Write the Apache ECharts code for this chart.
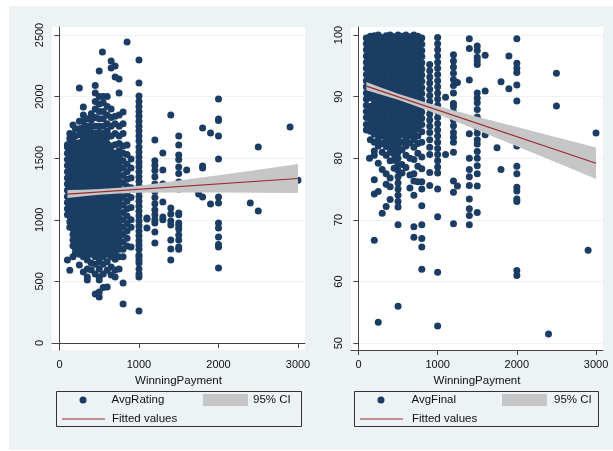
<!DOCTYPE html>
<html>
<head>
<meta charset="utf-8">
<script src="https://cdn.jsdelivr.net/npm/echarts@6/dist/echarts.min.js"></script>
<style>
  html, body { margin: 0; padding: 0; background: #ffffff; }
  #frame { position: absolute; left: 9px; top: 6px; width: 604px; height: 444px; background: #edf2f4; }
  #chart { position: absolute; left: 0; top: 0; width: 613px; height: 451px; }
</style>
</head>
<body>
<div id="frame"></div>
<div id="chart"></div>
<script>
// Tick positions
const payTicks = [0, 1000, 2000, 3000];
const ratingTicks = [0, 500, 1000, 1500, 2000, 2500];
const finalTicks = [50, 60, 70, 80, 90, 100];

// AvgRating by WinningPayment: [payment, [ratings...]]
const ratingCols = [
  [100, [674, 1040, 1090, 1140, 1190, 1240, 1290, 1340, 1390, 1440, 1490, 1540, 1590, 1610]],
  [130, [590, 940, 985, 1030, 1075, 1120, 1165, 1210, 1255, 1300, 1345, 1390, 1435, 1480, 1525, 1570, 1615, 1660, 1700]],
  [170, [700, 790, 835, 880, 925, 970, 1015, 1060, 1105, 1150, 1195, 1240, 1285, 1330, 1375, 1420, 1465, 1510, 1555, 1600, 1645, 1690, 1770]],
  [200, [730, 765, 810, 860, 910, 955, 1000, 1050, 1100, 1145, 1190, 1240, 1290, 1335, 1380, 1430, 1480, 1525, 1570, 1620, 1680, 1740]],
  [250, [633, 720, 770, 815, 860, 905, 950, 995, 1040, 1085, 1130, 1175, 1220, 1265, 1310, 1355, 1400, 1445, 1490, 1535, 1580, 1625, 1690, 1740, 1800, 2070]],
  [300, [576, 700, 745, 790, 835, 880, 925, 970, 1015, 1060, 1105, 1150, 1195, 1240, 1285, 1330, 1375, 1420, 1465, 1510, 1555, 1600, 1650, 1700, 1750, 1800, 1850, 1916]],
  [350, [511, 536, 600, 674, 720, 765, 810, 855, 900, 945, 990, 1035, 1080, 1125, 1170, 1215, 1260, 1305, 1350, 1395, 1440, 1485, 1530, 1575, 1620, 1665, 1710, 1760, 1820]],
  [400, [593, 650, 720, 760, 805, 850, 895, 940, 985, 1030, 1075, 1120, 1165, 1210, 1255, 1300, 1345, 1390, 1435, 1480, 1525, 1570, 1615, 1660, 1710, 1760, 1810, 1860]],
  [450, [398, 560, 640, 700, 745, 790, 835, 880, 925, 970, 1015, 1060, 1105, 1150, 1195, 1240, 1285, 1330, 1375, 1420, 1465, 1510, 1555, 1600, 1650, 1700, 1760, 1830, 1900, 1960, 2030, 2090]],
  [500, [373, 414, 511, 536, 600, 660, 710, 760, 805, 850, 895, 940, 985, 1030, 1075, 1120, 1165, 1210, 1255, 1300, 1345, 1390, 1435, 1480, 1525, 1570, 1615, 1660, 1710, 1760, 1820, 1880, 1940, 2000, 2208]],
  [540, [2362]],
  [550, [450, 560, 640, 700, 745, 790, 835, 880, 925, 970, 1015, 1060, 1105, 1150, 1195, 1240, 1285, 1330, 1375, 1420, 1465, 1510, 1555, 1600, 1650, 1700, 1760, 1820, 1880, 1950, 2000]],
  [600, [455, 590, 660, 720, 765, 810, 855, 900, 945, 990, 1035, 1080, 1125, 1170, 1215, 1260, 1305, 1350, 1395, 1440, 1485, 1530, 1575, 1620, 1670, 1720, 1780, 1850, 1920, 2000]],
  [650, [552, 617, 700, 745, 790, 835, 880, 925, 970, 1015, 1060, 1105, 1150, 1195, 1240, 1285, 1330, 1375, 1420, 1465, 1510, 1555, 1600, 1680, 1760, 1830, 1900, 2232, 2289]],
  [700, [536, 593, 680, 730, 775, 820, 865, 910, 955, 1000, 1045, 1090, 1135, 1180, 1225, 1270, 1315, 1360, 1405, 1450, 1495, 1540, 1610, 1700, 1780, 1840, 2160, 2248]],
  [750, [600, 700, 760, 810, 860, 910, 960, 1010, 1060, 1110, 1160, 1210, 1260, 1310, 1360, 1410, 1460, 1510, 1560, 1620, 1680, 1760, 1850, 2029, 2143]],
  [800, [317, 487, 700, 760, 820, 880, 940, 1000, 1060, 1120, 1180, 1240, 1300, 1360, 1420, 1480, 1540, 1600, 1700, 1780, 1875]],
  [850, [787, 850, 910, 970, 1030, 1090, 1150, 1210, 1270, 1330, 1390, 1450, 1530, 1607, 2443]],
  [900, [779, 940, 1000, 1100, 1180, 1260, 1340, 1420, 1494]],
  [1000, [260, 536, 560, 600, 649, 674, 700, 714, 760, 795, 830, 870, 910, 950, 990, 1030, 1070, 1110, 1150, 1190, 1230, 1270, 1310, 1350, 1390, 1430, 1470, 1510, 1550, 1590, 1640, 1680, 1720, 1760, 1800, 1840, 1880, 1920, 1960, 2005, 2110, 2297]],
  [1100, [933, 1006, 1015]],
  [1200, [811, 901, 974, 1000, 1040, 1080, 1130, 1180, 1230, 1290, 1350, 1400, 1440, 1480, 1648]],
  [1300, [1000, 1023, 1144, 1290, 1404, 1542]],
  [1400, [674, 763, 836, 958, 990, 1047, 1096, 1850]],
  [1500, [760, 779, 836, 877, 925, 950, 974, 1040, 1055, 1250, 1307, 1375, 1429, 1490, 1526, 1607, 1680]],
  [1600, [1404]],
  [1750, [1209]],
  [1800, [1185, 1420, 1437, 1745]],
  [1900, [1128, 1704]],
  [2000, [609, 779, 800, 860, 933, 974, 1136, 1185, 1494, 1680, 1805, 1818, 1980]],
  [2400, [1136]],
  [2500, [1071, 1591]],
  [2900, [1753]],
  [3000, [1320]]
];

// AvgFinal by WinningPayment: [payment, [scores...]]
const finalCols = [
  [100, [99.5, 98.6, 97.6, 96.6, 95.6, 94.6, 93.6, 92.6, 91.6, 90.6, 89.6, 88.6, 87.6, 86.6, 85.5, 84.6]],
  [140, [80.0]],
  [150, [99.8, 98.8, 97.8, 96.8, 95.8, 94.8, 93.8, 92.8, 91.8, 90.8, 89.8, 88.4, 87.4, 86.4, 85.4, 84.4, 83.0]],
  [200, [99.9, 98.9, 97.9, 96.9, 95.9, 94.9, 93.9, 92.9, 91.9, 90.9, 89.9, 88.9, 87.9, 86.9, 85.9, 84.9, 83.9, 82.6, 81.2, 80.5, 76.5, 74.2, 66.7]],
  [250, [100, 99, 98, 97, 96, 95, 94, 93, 92, 91, 90, 89, 88, 87, 86, 85, 84, 83, 82, 79.2, 74.6, 53.4]],
  [300, [99.6, 98.6, 97.6, 96.6, 95.6, 94.6, 93.6, 92.6, 91.6, 90.6, 89.6, 88.6, 87.6, 86.6, 85.6, 84.6, 83.6, 82.4, 81.0, 78.2, 71.1]],
  [350, [99.9, 98.9, 97.9, 96.9, 95.9, 94.9, 93.9, 92.9, 91.9, 90.9, 89.9, 88.9, 87.9, 86.9, 85.9, 84.9, 83.9, 82.9, 81.9, 80.5, 77.5, 75.8, 72.2]],
  [400, [100, 99, 98, 97, 96, 95, 94, 93, 92, 91, 90, 89, 88, 87, 86, 85, 84, 83, 82, 81, 79.6, 76.8, 75.4, 73.3]],
  [450, [99.7, 98.7, 97.7, 96.7, 95.7, 94.7, 93.7, 92.7, 91.7, 90.7, 89.7, 88.7, 87.7, 86.7, 85.7, 84.7, 83.7, 82.7, 81.7, 80.7, 79.7, 78.4]],
  [500, [100, 99, 98, 97, 96, 95, 94, 93, 92, 91, 90, 89, 88, 87, 86, 85, 84, 83, 82, 81, 80, 79, 78, 77, 76, 75, 74, 73, 72.1, 69.2, 56.0]],
  [550, [99.8, 98.8, 97.8, 96.8, 95.8, 94.8, 93.8, 92.8, 91.8, 90.8, 89.8, 88.8, 87.8, 86.8, 85.8, 84.8, 83.8, 82.6, 81.4, 79.0, 77.6]],
  [600, [100, 99, 98, 97, 96, 95, 94, 93, 92, 91, 90, 89, 88, 87, 86, 85, 84, 83, 82, 80.5, 78.5]],
  [650, [99.7, 98.7, 97.7, 96.7, 95.7, 94.7, 93.7, 92.7, 91.7, 90.7, 89.7, 88.7, 87.7, 86.7, 85.7, 84.7, 83.7, 82.5, 80.0, 77.3, 75.2]],
  [700, [100, 99, 98, 97, 96, 95, 94, 93, 92, 91, 90, 89, 88, 87, 86, 85, 84, 83, 81.8, 79.8, 77.5, 76.3, 74.0, 68.9, 67.2]],
  [750, [99.8, 98.8, 97.8, 96.8, 95.8, 94.8, 93.8, 92.8, 91.8, 90.8, 89.8, 88.8, 87.8, 86.8, 85.8, 84.8, 83.6, 82.4, 80.8, 78.7, 76.2]],
  [800, [99.5, 98.5, 97.5, 96.5, 95.5, 94.5, 93.5, 92.5, 91.5, 90.5, 89.5, 88.5, 87.5, 86.5, 85.5, 84.3, 82.6, 80.2, 78.3, 76.2, 75.0, 72.3, 69.2, 67.0, 65.6, 62.0]],
  [900, [95.2, 94.2, 93.2, 92.2, 91.2, 90.2, 89.2, 88.2, 87.2, 86.2, 85.2, 84.2, 83.0, 81.8, 80.6, 77.7, 75.6]],
  [1000, [99.6, 98.6, 97.6, 96.6, 95.6, 94.6, 93.6, 92.6, 91.6, 90.6, 89.6, 88.6, 87.6, 86.6, 85.6, 84.6, 83.6, 82.6, 81.6, 80.6, 79.6, 78.6, 77.6, 75.0, 70.5, 61.5, 52.8]],
  [1100, [80.6, 89.9]],
  [1200, [96.8, 95.8, 94.8, 93.8, 92.8, 91.8, 90.6, 88.9, 88.4, 87.5, 86.2, 85.3, 84.2, 83.4, 82.6, 81.0, 76.3, 74.5, 69.4]],
  [1250, [92.3, 75.5]],
  [1400, [99.4, 97.8, 92.7, 84.0, 80.0, 78.2, 77.0, 75.6, 73.4, 71.8, 70.7, 69.2]],
  [1500, [98.2, 97.5, 96.4, 95.8, 95.2, 90.6, 89.8, 89.0, 87.9, 86.7, 85.9, 85.0, 84.1, 83.0, 82.3, 81.1, 80.0, 78.8, 77.5, 75.5, 71.2]],
  [1600, [96.7, 90.9, 83.8]],
  [1750, [81.7]],
  [1800, [92.4, 78.2]],
  [1900, [96.6, 91.3]],
  [2000, [99.4, 95.4, 94.6, 93.9, 91.9, 89.3, 82.0, 78.7, 77.5, 75.3, 74.7, 73.4, 73.0, 61.8, 61.0]],
  [2400, [51.5]],
  [2500, [93.8, 88.5]],
  [2900, [65.1]],
  [3000, [84.1]]
];

// Linear fits (endpoints) and 95% confidence bands
const fitPay = [100, 3000];
const ratingFit = [1209, 1335];
const finalFit = [91.7, 79.2];

const ciPay = [100, 300, 500, 750, 1000, 1500, 2000, 2500, 3000];
const ratingLo = [1176, 1192, 1204, 1214, 1219, 1221, 1221, 1219, 1218];
const ratingHi = [1242, 1244, 1249, 1260, 1277, 1319, 1362, 1407, 1452];
const finalLo = [91.02, 90.28, 89.48, 88.36, 87.14, 84.58, 81.95, 79.30, 76.65];
const finalHi = [92.38, 91.40, 90.48, 89.44, 88.50, 86.76, 85.07, 83.40, 81.75];

const NAVY = '#1b3d64';
const FIT = '#9b2a30';
const BAND = '#c6c6c6';
const AXIS = '#444444';
const FONT = 'Liberation Sans, Arial, sans-serif';

const toPoints = cols => cols.flatMap(([x, ys]) => ys.map(y => [x, y]));
const pairs = (xs, ys) => xs.map((x, i) => [x, ys[i]]);
const plain = v => String(v);

function bandSeries(idx, lo, hi) {
  const data = ciPay.map((x, i) => [x, lo[i], hi[i]]);
  return {
    type: 'custom', name: '95% CI', xAxisIndex: idx, yAxisIndex: idx, z: 3,
    itemStyle: { color: BAND },
    encode: { x: 0, y: [1, 2] },
    data: data,
    renderItem: function (params, api) {
      if (params.dataIndex !== 0) return null;
      const upper = data.map(d => api.coord([d[0], d[2]]));
      const lower = data.map(d => api.coord([d[0], d[1]])).reverse();
      return {
        type: 'polygon',
        shape: { points: upper.concat(lower) },
        style: { fill: BAND, stroke: null }
      };
    }
  };
}

function xAxisFor(idx) {
  return {
    gridIndex: idx, type: 'value', min: -94, max: 3088,
    axisLine: { show: true, lineStyle: { color: AXIS, width: 1 } },
    axisTick: { show: true, length: 5, customValues: payTicks, lineStyle: { color: AXIS } },
    axisLabel: { customValues: payTicks, formatter: plain, margin: 9, fontSize: 11, color: '#111', fontFamily: FONT },
    splitLine: { show: false },
    name: 'WinningPayment', nameLocation: 'middle', nameGap: 17,
    nameTextStyle: { fontSize: 11.5, color: '#111', fontFamily: FONT }
  };
}

function yAxisFor(idx, min, max, ticks) {
  return {
    gridIndex: idx, type: 'value', min: min, max: max,
    axisLine: { show: true, lineStyle: { color: AXIS, width: 1 } },
    axisTick: { show: true, length: 5, customValues: ticks, lineStyle: { color: AXIS } },
    axisLabel: { customValues: ticks, formatter: plain, rotate: 90, margin: 7, fontSize: 11, color: '#111', fontFamily: FONT },
    splitLine: { show: true, lineStyle: { color: '#edf2f4', width: 1 } }
  };
}

function legendItem(left, top, w, h, pad, item) {
  return {
    left: left, top: top, itemWidth: w, itemHeight: h, padding: 0, selectedMode: false,
    textStyle: { fontSize: 11.5, color: '#111', fontFamily: FONT, lineHeight: 14, padding: [0, 0, 0, pad] },
    data: [item]
  };
}

const chart = echarts.init(document.getElementById('chart'), null, { renderer: 'canvas' });
chart.setOption({
  animation: false,
  backgroundColor: 'transparent',
  grid: [
    { left: 52, top: 27, width: 253, height: 323, show: true, backgroundColor: '#ffffff', borderWidth: 0 },
    { left: 351, top: 27, width: 252, height: 323, show: true, backgroundColor: '#ffffff', borderWidth: 0 }
  ],
  xAxis: [xAxisFor(0), xAxisFor(1)],
  yAxis: [yAxisFor(0, -57, 2565, ratingTicks), yAxisFor(1, 48.9, 101.3, finalTicks)],
  legend: [
    legendItem(79.5, 393, 7, 7, 20, { name: 'AvgRating', icon: 'circle', itemStyle: { color: NAVY } }),
    legendItem(62, 412, 43, 1.2, 2, { name: 'Fitted values', icon: 'rect', itemStyle: { color: FIT } }),
    legendItem(203, 393, 45, 12, 0, { name: '95% CI', icon: 'rect', itemStyle: { color: BAND } }),
    legendItem(377.5, 393, 7, 7, 22, { name: 'AvgFinal', icon: 'circle', itemStyle: { color: NAVY } }),
    legendItem(360, 412, 43, 1.2, 4, { name: 'Fitted values', icon: 'rect', itemStyle: { color: FIT } }),
    legendItem(502, 393, 45, 12, 2, { name: '95% CI', icon: 'rect', itemStyle: { color: BAND } })
  ],
  graphic: [
    { type: 'rect', shape: { x: 56.5, y: 391.5, width: 245, height: 35 },
      style: { fill: null, stroke: '#333', lineWidth: 1 } },
    { type: 'rect', shape: { x: 354.5, y: 391.5, width: 244, height: 35 },
      style: { fill: null, stroke: '#333', lineWidth: 1 } }
  ],
  series: [
    { type: 'scatter', name: 'AvgRating', xAxisIndex: 0, yAxisIndex: 0, z: 2,
      symbol: 'circle', symbolSize: 7, itemStyle: { color: NAVY, opacity: 1 },
      data: toPoints(ratingCols) },
    bandSeries(0, ratingLo, ratingHi),
    { type: 'line', name: 'Fitted values', xAxisIndex: 0, yAxisIndex: 0, z: 4,
      symbol: 'none', showSymbol: false, lineStyle: { color: FIT, width: 1.2 }, itemStyle: { color: FIT },
      data: pairs(fitPay, ratingFit) },
    { type: 'scatter', name: 'AvgFinal', xAxisIndex: 1, yAxisIndex: 1, z: 2,
      symbol: 'circle', symbolSize: 7, itemStyle: { color: NAVY, opacity: 1 },
      data: toPoints(finalCols) },
    bandSeries(1, finalLo, finalHi),
    { type: 'line', name: 'Fitted values', xAxisIndex: 1, yAxisIndex: 1, z: 4,
      symbol: 'none', showSymbol: false, lineStyle: { color: FIT, width: 1.2 }, itemStyle: { color: FIT },
      data: pairs(fitPay, finalFit) }
  ]
});
</script>
</body>
</html>
